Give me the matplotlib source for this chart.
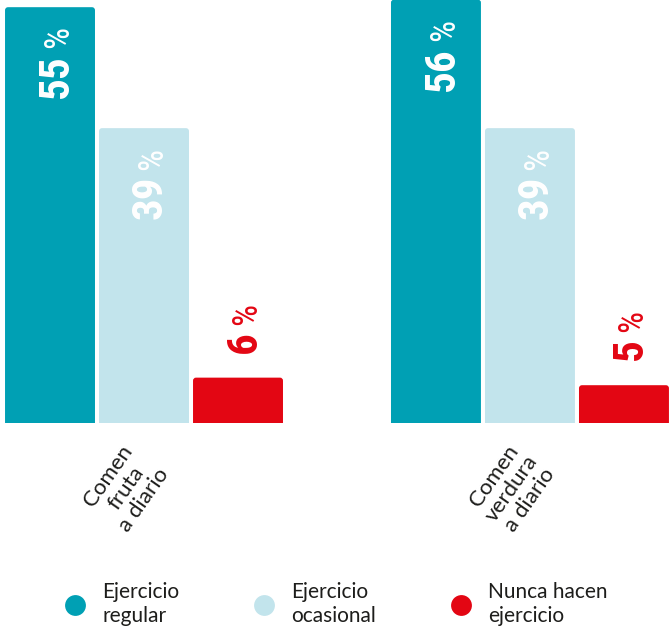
import numpy as np
import matplotlib.pyplot as plt
from matplotlib import font_manager as fm
from matplotlib.patches import FancyBboxPatch
from matplotlib.lines import Line2D


# DATOS
grupos = ["Comen\nfruta\na diario", "Comen\nverdura\na diario"]
series = ["Ejercicio\nregular", "Ejercicio\nocasional", "Nunca hacen\nejercicio"]
regular = [55, 56]
ocasional = [39, 39]
nunca = [6, 5]
colores = ["#00a0b4", "#c2e4ec", "#e30613"]

TEXTO = "#1d1d1b"
FUENTE = ["Lato", "DejaVu Sans"]

# buscar una fuente estrecha para los numeros
instaladas = {f.name for f in fm.fontManager.ttflist}
estrecha = "DejaVu Sans"
estiramiento = "normal"
for cand in ["Roboto Condensed", "Liberation Sans Narrow", "Noto Sans Condensed",
             "Open Sans Condensed", "DejaVu Sans Condensed"]:
    if cand in instaladas:
        estrecha = cand
        break
else:
    for f in fm.fontManager.ttflist:
        if f.name in ("Noto Sans", "Open Sans", "Roboto", "DejaVu Sans") and \
                "condensed" in str(f.stretch):
            estrecha, estiramiento = f.name, "condensed"
            break
FUENTE_NUM = [estrecha, "DejaVu Sans"]

fig = plt.figure(figsize=(6.72, 6.29), dpi=100)
ax = fig.add_axes([0, 1 - 423 / 629, 1, 423 / 629])
ax.set_xlim(-0.532, 6.617)
ax.set_ylim(0, 55.95)
ax.axis("off")

grupo_x = np.array([0, 4.106])
ancho = 0.957

# pixeles por unidad, para las esquinas redondeadas
p0 = ax.transData.transform((0, 0))
p1 = ax.transData.transform((1, 1))
sx, sy = p1[0] - p0[0], p1[1] - p0[1]
radio = 3 / sx

for i, (vals, col) in enumerate(zip([regular, ocasional, nunca], colores)):
    barras = ax.bar(grupo_x + i, vals, width=ancho, color=col)
    for b, v in zip(barras, vals):
        x, w, h = b.get_x(), b.get_width(), b.get_height()
        b.set_visible(False)
        ax.add_patch(FancyBboxPatch((x, -1), w, h + 1,
                                    boxstyle=f"round,pad=0,rounding_size={radio}",
                                    mutation_aspect=sx / sy, fc=col, ec="none"))
        if i < 2:
            color_txt, off = "white", -91
        else:
            color_txt, off = col, 25
        num = ax.annotate(str(v), xy=(x + w / 2, h), xytext=(18, off),
                          textcoords="offset pixels", rotation=90,
                          rotation_mode="anchor", ha="left", va="baseline",
                          fontsize=31, fontweight="bold", family=FUENTE_NUM,
                          fontstretch=estiramiento, color=color_txt)
        ax.annotate("%", xy=(1, 1), xycoords=num, xytext=(-9, 6),
                    textcoords="offset pixels", rotation=90,
                    rotation_mode="anchor", ha="left", va="baseline",
                    fontsize=25, family=FUENTE_NUM, fontstretch=estiramiento,
                    color=color_txt)

# etiquetas de categoria
for gx, g in zip(grupo_x, grupos):
    ax.annotate(g, xy=(gx + 1, 0), xytext=(-18, -65), textcoords="offset pixels",
                rotation=55, ha="center", va="center", multialignment="center",
                linespacing=1.1, fontsize=16, family=FUENTE, color=TEXTO,
                annotation_clip=False)

# leyenda
handles = [Line2D([], [], ls="none", marker="o", markersize=15,
                  markerfacecolor=c, markeredgecolor="none") for c in colores]
fig.legend(handles, series, loc="center left", bbox_to_anchor=(64.6 / 672, 25 / 629),
           ncol=3, frameon=False, borderpad=0, borderaxespad=0,
           handlelength=1, handletextpad=0.8, columnspacing=3.58,
           prop={"family": FUENTE, "size": 15}, labelcolor=TEXTO)

fig.savefig("out.png", dpi=100)
